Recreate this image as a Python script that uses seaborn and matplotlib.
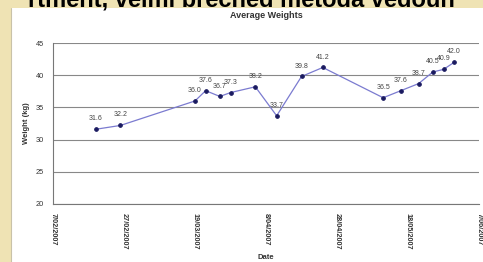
import matplotlib

matplotlib.use("Agg")
import matplotlib.dates as mdates
import matplotlib.pyplot as plt
import pandas as pd
import seaborn as sns
from matplotlib.patches import Rectangle

# values
dates = [
    "2007-02-19", "2007-02-26", "2007-03-19", "2007-03-22", "2007-03-26",
    "2007-03-29", "2007-04-05", "2007-04-11", "2007-04-18", "2007-04-24",
    "2007-05-11", "2007-05-16", "2007-05-21", "2007-05-25", "2007-05-28",
    "2007-05-31",
]
weights = [31.6, 32.2, 36.0, 37.6, 36.7, 37.3, 38.2, 33.7, 39.8, 41.2,
           36.5, 37.6, 38.7, 40.5, 40.9, 42.0]
tick_dates = ["2007-02-07", "2007-02-27", "2007-03-19", "2007-04-08",
              "2007-04-28", "2007-05-18", "2007-06-07"]
tick_labels = ["7/02/2007", "27/02/2007", "19/03/2007", "8/04/2007",
               "28/04/2007", "18/05/2007", "7/06/2007"]
y_ticks = [20, 25, 30, 35, 40, 45]

df = pd.DataFrame({"Date": pd.to_datetime(dates), "Weight": weights})

sns.set_style("white")
plt.rcParams["font.family"] = ["Liberation Sans", "DejaVu Sans"]

fig = plt.figure(figsize=(4.83, 2.62), dpi=100)
fig.patch.set_facecolor("white")

# beige page margin on the left and top, with the cut-off text line
fig.add_artist(Rectangle((0, 0), 11 / 483, 1, transform=fig.transFigure,
                         facecolor="#efe3b4", edgecolor="none", zorder=0))
fig.add_artist(Rectangle((0, 1 - 8 / 262), 1, 8 / 262, transform=fig.transFigure,
                         facecolor="#efe3b4", edgecolor="none", zorder=0))
fig.add_artist(plt.Line2D([11 / 483, 11 / 483], [0, 1 - 8 / 262], transform=fig.transFigure,
                          color="#c9c2a8", lw=0.8))
fig.text(0.5, 1 - 7 / 262, "rtment, velmi brecned metoda vedoun", ha="center", va="baseline",
         fontsize=17, color="black", weight="bold", family=["Liberation Sans", "DejaVu Sans"])

ax = fig.add_axes([53 / 483, 1 - 204 / 262, 426 / 483, 161 / 262])
sns.lineplot(data=df, x="Date", y="Weight", ax=ax, color="#7b7bd0", lw=0.9,
             marker="o", markersize=2.6, markerfacecolor="#1a1a60",
             markeredgecolor="#1a1a60")

for d, w in zip(df["Date"], df["Weight"]):
    ax.annotate(f"{w:.1f}", (d, w), xytext=(0, 5), textcoords="offset points",
                ha="center", va="bottom", fontsize=5, color="#444444")

ax.set_xlim(pd.Timestamp(tick_dates[0]), pd.Timestamp(tick_dates[-1]))
ax.set_xticks(mdates.date2num(pd.to_datetime(tick_dates)))
ax.set_xticklabels(tick_labels, rotation=-90, fontsize=5.3, weight="bold", color="#333333")
ax.set_ylim(20, 45)
ax.set_yticks(y_ticks)
ax.tick_params(axis="y", labelsize=5.3, colors="#333333", length=3, width=0.6)
ax.tick_params(axis="x", length=3, width=0.6, color="#666666")
ax.yaxis.grid(True, color="#888888", lw=0.8)
ax.set_axisbelow(True)
for s in ["top", "right"]:
    ax.spines[s].set_visible(False)
for s in ["left", "bottom"]:
    ax.spines[s].set_color("#777777")
    ax.spines[s].set_linewidth(0.8)

ax.set_xlabel("Date", fontsize=5.5, weight="bold", color="#333333", labelpad=3)
ax.set_ylabel("Weight (kg)", fontsize=5.5, weight="bold", color="#333333", labelpad=4)
ax.set_title("Average Weights", fontsize=6.5, weight="bold", color="#333333", pad=18)

fig.savefig("out.png", dpi=100)
